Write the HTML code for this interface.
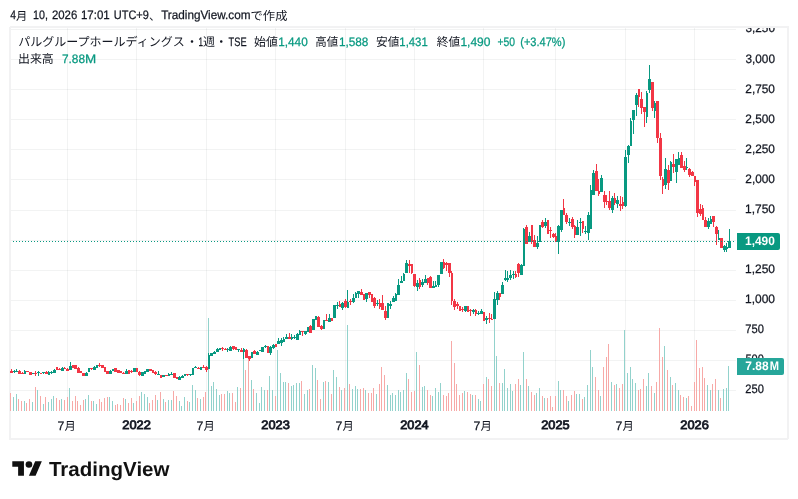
<!DOCTYPE html>
<html lang="ja"><head><meta charset="utf-8"><title>TradingView chart</title>
<style>html,body{margin:0;padding:0;background:#fff;}body{width:798px;height:499px;overflow:hidden;font-family:"Liberation Sans",sans-serif;}svg{display:block;will-change:transform;}</style>
</head><body>
<svg width="798" height="499" viewBox="0 0 798 499" font-family="'Liberation Sans', sans-serif" shape-rendering="crispEdges">
<desc>4月 10, 2026 17:01 UTC+9、TradingView.comで作成 パルグループホールディングス・1週・TSE 始値1,440 高値1,588 安値1,431 終値1,490 +50 (+3.47%) 出来高 7.88M</desc>
<rect width="798" height="499" fill="#fff"/>
<rect x="10" y="27" width="778" height="412" rx="1" fill="none" stroke="#f2f2f3" stroke-width="2"/>
<path d="M67.5 28 V411 M136.5 28 V411 M206.5 28 V411 M275.5 28 V411 M345.5 28 V411 M414.5 28 V411 M483.5 28 V411 M555.5 28 V411 M625.5 28 V411 M694.5 28 V411" stroke="rgba(42,46,57,0.06)" stroke-width="1" fill="none"/>
<path d="M11 29.5 H736 M11 59.5 H736 M11 89.5 H736 M11 119.5 H736 M11 149.5 H736 M11 179.5 H736 M11 210.5 H736 M11 240.5 H736 M11 270.5 H736 M11 300.5 H736 M11 330.5 H736 M11 360.5 H736 M11 390.5 H736" stroke="rgba(42,46,57,0.06)" stroke-width="1" fill="none"/>
<path d="M13 397 h1 V411 h-1 zM16 394 h1 V411 h-1 zM24 401 h1 V411 h-1 zM32 402 h1 V411 h-1 zM37 390 h1 V411 h-1 zM43 404 h1 V411 h-1 zM48 402 h1 V411 h-1 zM51 399 h1 V411 h-1 zM53 396 h1 V411 h-1 zM61 399 h1 V411 h-1 zM69 388 h1 V411 h-1 zM85 399 h1 V411 h-1 zM88 395 h1 V411 h-1 zM93 401 h1 V411 h-1 zM96 404 h1 V411 h-1 zM109 397 h1 V411 h-1 zM112 401 h1 V411 h-1 zM125 399 h1 V411 h-1 zM133 403 h1 V411 h-1 zM141 392 h1 V411 h-1 zM144 394 h1 V411 h-1 zM147 397 h1 V411 h-1 zM157 400 h1 V411 h-1 zM163 399 h1 V411 h-1 zM168 400 h1 V411 h-1 zM171 400 h1 V411 h-1 zM179 401 h1 V411 h-1 zM181 406 h1 V411 h-1 zM184 397 h1 V411 h-1 zM189 402 h1 V411 h-1 zM192 385 h1 V411 h-1 zM195 390 h1 V411 h-1 zM200 399 h1 V411 h-1 zM208 318 h1 V411 h-1 zM211 386 h1 V411 h-1 zM213 382 h1 V411 h-1 zM216 389 h1 V411 h-1 zM219 395 h1 V411 h-1 zM227 391 h1 V411 h-1 zM229 393 h1 V411 h-1 zM237 387 h1 V411 h-1 zM243 350 h1 V411 h-1 zM251 380 h1 V411 h-1 zM256 393 h1 V411 h-1 zM259 403 h1 V411 h-1 zM261 387 h1 V411 h-1 zM264 390 h1 V411 h-1 zM269 376 h1 V411 h-1 zM272 390 h1 V411 h-1 zM277 350 h1 V411 h-1 zM280 373 h1 V411 h-1 zM283 382 h1 V411 h-1 zM285 382 h1 V411 h-1 zM291 386 h1 V411 h-1 zM293 385 h1 V411 h-1 zM296 383 h1 V411 h-1 zM299 383 h1 V411 h-1 zM304 394 h1 V411 h-1 zM307 390 h1 V411 h-1 zM312 365 h1 V411 h-1 zM315 368 h1 V411 h-1 zM323 382 h1 V411 h-1 zM328 382 h1 V411 h-1 zM333 370 h1 V411 h-1 zM336 377 h1 V411 h-1 zM341 390 h1 V411 h-1 zM347 325 h1 V411 h-1 zM352 389 h1 V411 h-1 zM355 386 h1 V411 h-1 zM357 389 h1 V411 h-1 zM365 390 h1 V411 h-1 zM376 394 h1 V411 h-1 zM387 385 h1 V411 h-1 zM390 395 h1 V411 h-1 zM392 393 h1 V411 h-1 zM395 395 h1 V411 h-1 zM398 390 h1 V411 h-1 zM400 392 h1 V411 h-1 zM403 390 h1 V411 h-1 zM406 373 h1 V411 h-1 zM416 352 h1 V411 h-1 zM422 387 h1 V411 h-1 zM424 386 h1 V411 h-1 zM432 396 h1 V411 h-1 zM435 388 h1 V411 h-1 zM438 392 h1 V411 h-1 zM440 383 h1 V411 h-1 zM464 391 h1 V411 h-1 zM472 395 h1 V411 h-1 zM478 399 h1 V411 h-1 zM480 401 h1 V411 h-1 zM486 377 h1 V411 h-1 zM494 319 h1 V411 h-1 zM496 356 h1 V411 h-1 zM502 383 h1 V411 h-1 zM504 369 h1 V411 h-1 zM507 388 h1 V411 h-1 zM510 384 h1 V411 h-1 zM512 391 h1 V411 h-1 zM520 385 h1 V411 h-1 zM523 352 h1 V411 h-1 zM528 386 h1 V411 h-1 zM536 393 h1 V411 h-1 zM539 388 h1 V411 h-1 zM544 398 h1 V411 h-1 zM558 381 h1 V411 h-1 zM560 390 h1 V411 h-1 zM568 401 h1 V411 h-1 zM576 394 h1 V411 h-1 zM579 394 h1 V411 h-1 zM584 397 h1 V411 h-1 zM587 385 h1 V411 h-1 zM590 350 h1 V411 h-1 zM592 367 h1 V411 h-1 zM600 396 h1 V411 h-1 zM611 382 h1 V411 h-1 zM616 384 h1 V411 h-1 zM624 330 h1 V411 h-1 zM627 373 h1 V411 h-1 zM630 367 h1 V411 h-1 zM632 379 h1 V411 h-1 zM635 383 h1 V411 h-1 zM646 386 h1 V411 h-1 zM648 373 h1 V411 h-1 zM654 393 h1 V411 h-1 zM664 346 h1 V411 h-1 zM670 377 h1 V411 h-1 zM675 383 h1 V411 h-1 zM678 390 h1 V411 h-1 zM686 398 h1 V411 h-1 zM707 385 h1 V411 h-1 zM710 390 h1 V411 h-1 zM718 390 h1 V411 h-1 zM723 389 h1 V411 h-1 zM726 388 h1 V411 h-1 zM728 366 h1 V411 h-1 z" fill="#92d2cc"/>
<path d="M10 393 h1 V411 h-1 zM18 399 h1 V411 h-1 zM21 401 h1 V411 h-1 zM26 403 h1 V411 h-1 zM29 399 h1 V411 h-1 zM35 387 h1 V411 h-1 zM40 396 h1 V411 h-1 zM45 397 h1 V411 h-1 zM56 398 h1 V411 h-1 zM59 400 h1 V411 h-1 zM64 400 h1 V411 h-1 zM67 397 h1 V411 h-1 zM72 401 h1 V411 h-1 zM75 396 h1 V411 h-1 zM77 401 h1 V411 h-1 zM80 405 h1 V411 h-1 zM83 400 h1 V411 h-1 zM91 401 h1 V411 h-1 zM99 399 h1 V411 h-1 zM101 402 h1 V411 h-1 zM104 398 h1 V411 h-1 zM107 397 h1 V411 h-1 zM115 405 h1 V411 h-1 zM117 404 h1 V411 h-1 zM120 405 h1 V411 h-1 zM123 398 h1 V411 h-1 zM128 403 h1 V411 h-1 zM131 398 h1 V411 h-1 zM136 401 h1 V411 h-1 zM139 396 h1 V411 h-1 zM149 403 h1 V411 h-1 zM152 400 h1 V411 h-1 zM155 395 h1 V411 h-1 zM160 392 h1 V411 h-1 zM165 402 h1 V411 h-1 zM173 391 h1 V411 h-1 zM176 396 h1 V411 h-1 zM187 401 h1 V411 h-1 zM197 398 h1 V411 h-1 zM203 397 h1 V411 h-1 zM205 392 h1 V411 h-1 zM221 394 h1 V411 h-1 zM224 394 h1 V411 h-1 zM232 393 h1 V411 h-1 zM235 402 h1 V411 h-1 zM240 388 h1 V411 h-1 zM245 370 h1 V411 h-1 zM248 359 h1 V411 h-1 zM253 389 h1 V411 h-1 zM267 390 h1 V411 h-1 zM275 396 h1 V411 h-1 zM288 383 h1 V411 h-1 zM301 381 h1 V411 h-1 zM309 389 h1 V411 h-1 zM317 380 h1 V411 h-1 zM320 399 h1 V411 h-1 zM325 381 h1 V411 h-1 zM331 394 h1 V411 h-1 zM339 387 h1 V411 h-1 zM344 388 h1 V411 h-1 zM349 384 h1 V411 h-1 zM360 389 h1 V411 h-1 zM363 388 h1 V411 h-1 zM368 393 h1 V411 h-1 zM371 393 h1 V411 h-1 zM373 388 h1 V411 h-1 zM379 384 h1 V411 h-1 zM381 367 h1 V411 h-1 zM384 375 h1 V411 h-1 zM408 379 h1 V411 h-1 zM411 392 h1 V411 h-1 zM414 391 h1 V411 h-1 zM419 365 h1 V411 h-1 zM427 390 h1 V411 h-1 zM430 395 h1 V411 h-1 zM443 395 h1 V411 h-1 zM446 396 h1 V411 h-1 zM448 393 h1 V411 h-1 zM451 341 h1 V411 h-1 zM454 363 h1 V411 h-1 zM456 384 h1 V411 h-1 zM459 395 h1 V411 h-1 zM462 393 h1 V411 h-1 zM467 392 h1 V411 h-1 zM470 394 h1 V411 h-1 zM475 395 h1 V411 h-1 zM483 384 h1 V411 h-1 zM488 379 h1 V411 h-1 zM491 386 h1 V411 h-1 zM499 383 h1 V411 h-1 zM515 384 h1 V411 h-1 zM518 379 h1 V411 h-1 zM526 379 h1 V411 h-1 zM531 392 h1 V411 h-1 zM534 395 h1 V411 h-1 zM542 396 h1 V411 h-1 zM547 398 h1 V411 h-1 zM550 396 h1 V411 h-1 zM552 407 h1 V411 h-1 zM555 396 h1 V411 h-1 zM563 390 h1 V411 h-1 zM566 396 h1 V411 h-1 zM571 395 h1 V411 h-1 zM574 391 h1 V411 h-1 zM582 399 h1 V411 h-1 zM595 377 h1 V411 h-1 zM598 390 h1 V411 h-1 zM603 367 h1 V411 h-1 zM606 357 h1 V411 h-1 zM608 344 h1 V411 h-1 zM614 385 h1 V411 h-1 zM619 388 h1 V411 h-1 zM622 384 h1 V411 h-1 zM638 390 h1 V411 h-1 zM640 389 h1 V411 h-1 zM643 379 h1 V411 h-1 zM651 386 h1 V411 h-1 zM656 382 h1 V411 h-1 zM659 328 h1 V411 h-1 zM662 357 h1 V411 h-1 zM667 370 h1 V411 h-1 zM672 385 h1 V411 h-1 zM680 395 h1 V411 h-1 zM683 397 h1 V411 h-1 zM688 396 h1 V411 h-1 zM691 406 h1 V411 h-1 zM694 382 h1 V411 h-1 zM696 340 h1 V411 h-1 zM699 368 h1 V411 h-1 zM702 367 h1 V411 h-1 zM704 378 h1 V411 h-1 zM712 384 h1 V411 h-1 zM715 379 h1 V411 h-1 zM720 398 h1 V411 h-1 z" fill="#f7a9a7"/>
<path d="M14 370h1V373h-1zM13 371h3V372h-3zM16 369h1V372h-1zM16 371h2V372h-2zM24 370h1V374h-1zM24 371h2V374h-2zM32 373h1V374h-1zM32 373h2V374h-2zM38 371h1V376h-1zM37 372h3V373h-3zM43 372h1V374h-1zM42 372h3V373h-3zM48 371h1V375h-1zM48 372h2V375h-2zM51 371h1V374h-1zM50 372h3V373h-3zM54 369h1V373h-1zM53 370h3V373h-3zM62 367h1V371h-1zM61 368h3V371h-3zM70 362h1V370h-1zM69 366h3V370h-3zM86 372h1V376h-1zM85 373h3V376h-3zM88 368h1V372h-1zM88 368h2V372h-2zM94 366h1V370h-1zM93 367h3V370h-3zM96 365h1V368h-1zM96 365h2V368h-2zM110 370h1V374h-1zM109 371h3V374h-3zM112 369h1V371h-1zM112 369h2V371h-2zM126 369h1V374h-1zM125 371h3V374h-3zM134 368h1V372h-1zM133 368h3V372h-3zM142 372h1V376h-1zM141 372h3V376h-3zM144 371h1V374h-1zM144 371h2V374h-2zM147 369h1V372h-1zM146 369h3V372h-3zM158 371h1V375h-1zM157 374h3V375h-3zM163 375h1V377h-1zM162 375h3V377h-3zM168 373h1V376h-1zM168 374h2V376h-2zM171 372h1V375h-1zM170 374h3V375h-3zM179 376h1V380h-1zM178 377h3V380h-3zM182 375h1V378h-1zM181 376h3V378h-3zM184 374h1V376h-1zM184 374h2V376h-2zM190 374h1V376h-1zM189 374h3V375h-3zM192 368h1V375h-1zM192 368h2V375h-2zM195 366h1V368h-1zM194 367h3V368h-3zM200 367h1V370h-1zM200 367h2V370h-2zM208 353h1V369h-1zM208 355h2V369h-2zM211 353h1V356h-1zM210 353h3V356h-3zM214 351h1V354h-1zM213 352h3V354h-3zM217 348h1V352h-1zM216 349h3V352h-3zM219 348h1V350h-1zM219 348h2V350h-2zM227 348h1V352h-1zM227 349h2V350h-2zM230 346h1V351h-1zM229 347h3V351h-3zM238 349h1V352h-1zM237 349h3V350h-3zM243 348h1V359h-1zM243 349h2V352h-2zM251 352h1V358h-1zM251 352h2V358h-2zM257 351h1V355h-1zM256 352h3V355h-3zM259 350h1V351h-1zM259 350h2V351h-2zM262 347h1V352h-1zM261 347h3V352h-3zM265 345h1V348h-1zM264 346h3V347h-3zM270 346h1V355h-1zM269 347h3V353h-3zM273 344h1V349h-1zM272 345h3V348h-3zM278 338h1V344h-1zM277 341h3V344h-3zM281 338h1V346h-1zM280 340h3V343h-3zM283 337h1V342h-1zM283 339h2V342h-2zM286 334h1V339h-1zM285 337h3V339h-3zM291 334h1V340h-1zM291 337h2V339h-2zM294 335h1V339h-1zM293 337h3V338h-3zM297 333h1V340h-1zM296 334h3V340h-3zM299 330h1V335h-1zM299 331h2V335h-2zM305 331h1V335h-1zM304 331h3V334h-3zM307 327h1V332h-1zM307 327h2V332h-2zM313 319h1V330h-1zM312 319h3V330h-3zM315 316h1V320h-1zM315 316h2V320h-2zM323 320h1V329h-1zM323 320h2V329h-2zM329 314h1V322h-1zM328 318h3V322h-3zM334 305h1V318h-1zM333 305h3V318h-3zM337 302h1V309h-1zM336 305h3V306h-3zM342 302h1V310h-1zM341 303h3V308h-3zM347 290h1V308h-1zM347 302h2V308h-2zM353 294h1V303h-1zM352 298h3V302h-3zM355 292h1V298h-1zM355 293h2V298h-2zM358 291h1V298h-1zM357 291h3V294h-3zM366 293h1V302h-1zM365 293h3V299h-3zM377 300h1V306h-1zM376 303h3V304h-3zM387 303h1V318h-1zM387 303h2V318h-2zM390 301h1V309h-1zM389 304h3V306h-3zM393 296h1V302h-1zM392 298h3V302h-3zM395 293h1V301h-1zM395 294h2V301h-2zM398 279h1V295h-1zM397 285h3V295h-3zM401 276h1V283h-1zM400 281h3V283h-3zM403 273h1V281h-1zM403 274h2V281h-2zM406 260h1V273h-1zM405 263h3V273h-3zM417 280h1V291h-1zM416 283h3V287h-3zM422 279h1V287h-1zM421 282h3V285h-3zM425 275h1V283h-1zM424 279h3V283h-3zM433 281h1V288h-1zM432 286h3V288h-3zM435 281h1V287h-1zM435 285h2V287h-2zM438 275h1V287h-1zM437 275h3V285h-3zM441 262h1V274h-1zM440 262h3V274h-3zM465 306h1V312h-1zM464 306h3V311h-3zM473 309h1V314h-1zM472 310h3V312h-3zM478 311h1V315h-1zM477 313h3V314h-3zM481 309h1V314h-1zM480 311h3V314h-3zM486 316h1V324h-1zM485 318h3V320h-3zM494 292h1V319h-1zM493 299h3V319h-3zM497 291h1V305h-1zM496 293h3V300h-3zM502 282h1V294h-1zM501 285h3V294h-3zM505 270h1V281h-1zM504 278h3V280h-3zM507 271h1V282h-1zM507 278h2V280h-2zM510 270h1V280h-1zM509 275h3V278h-3zM513 271h1V279h-1zM512 274h3V275h-3zM521 264h1V275h-1zM520 265h3V275h-3zM523 228h1V266h-1zM523 229h2V266h-2zM529 232h1V242h-1zM528 236h3V242h-3zM537 236h1V249h-1zM536 243h3V247h-3zM539 225h1V242h-1zM539 225h2V242h-2zM545 218h1V228h-1zM544 222h3V226h-3zM558 225h1V254h-1zM557 226h3V242h-3zM561 210h1V232h-1zM560 210h3V230h-3zM569 218h1V226h-1zM568 222h3V223h-3zM577 220h1V235h-1zM576 227h3V235h-3zM580 218h1V236h-1zM579 222h3V223h-3zM585 226h1V234h-1zM584 231h3V232h-3zM588 212h1V240h-1zM587 215h3V233h-3zM590 185h1V229h-1zM590 190h2V229h-2zM593 170h1V195h-1zM592 173h3V195h-3zM601 175h1V192h-1zM600 178h3V192h-3zM612 196h1V213h-1zM611 198h3V210h-3zM617 196h1V208h-1zM616 200h3V204h-3zM625 150h1V207h-1zM624 157h3V206h-3zM628 145h1V163h-1zM627 146h3V155h-3zM630 118h1V146h-1zM630 121h2V146h-2zM633 110h1V134h-1zM632 110h3V120h-3zM636 93h1V116h-1zM635 95h3V105h-3zM646 91h1V123h-1zM646 93h2V117h-2zM649 65h1V93h-1zM648 79h3V90h-3zM654 101h1V118h-1zM654 103h2V111h-2zM665 158h1V189h-1zM664 169h3V185h-3zM670 161h1V181h-1zM670 162h2V181h-2zM676 159h1V183h-1zM675 159h3V172h-3zM678 152h1V165h-1zM678 158h2V165h-2zM686 158h1V170h-1zM686 167h2V168h-2zM708 218h1V229h-1zM707 221h3V227h-3zM710 216h1V224h-1zM710 219h2V224h-2zM718 230h1V240h-1zM718 238h2V240h-2zM724 245h1V252h-1zM723 246h3V250h-3zM726 243h1V252h-1zM726 247h2V249h-2zM729 229h1V248h-1zM728 241h3V248h-3z" fill="#089981"/>
<path d="M11 369h1V373h-1zM10 371h3V373h-3zM19 370h1V374h-1zM18 371h3V374h-3zM22 372h1V374h-1zM21 373h3V374h-3zM27 371h1V372h-1zM26 371h3V372h-3zM30 372h1V375h-1zM29 372h3V375h-3zM35 371h1V376h-1zM34 373h3V374h-3zM40 373h1V374h-1zM40 373h2V374h-2zM46 371h1V374h-1zM45 372h3V374h-3zM56 367h1V370h-1zM56 367h2V370h-2zM59 368h1V370h-1zM58 369h3V370h-3zM64 367h1V369h-1zM64 368h2V369h-2zM67 368h1V371h-1zM66 369h3V371h-3zM72 365h1V368h-1zM72 365h2V368h-2zM75 365h1V369h-1zM74 365h3V369h-3zM78 367h1V373h-1zM77 368h3V373h-3zM80 371h1V373h-1zM80 371h2V373h-2zM83 373h1V376h-1zM82 373h3V376h-3zM91 368h1V370h-1zM90 368h3V369h-3zM99 363h1V367h-1zM98 365h3V366h-3zM102 365h1V368h-1zM101 365h3V368h-3zM104 367h1V372h-1zM104 367h2V372h-2zM107 371h1V374h-1zM106 371h3V374h-3zM115 368h1V372h-1zM114 368h3V372h-3zM118 370h1V373h-1zM117 370h3V373h-3zM120 371h1V373h-1zM120 371h2V373h-2zM123 372h1V374h-1zM122 373h3V374h-3zM128 370h1V374h-1zM128 370h2V374h-2zM131 370h1V373h-1zM130 371h3V372h-3zM136 368h1V372h-1zM136 368h2V372h-2zM139 371h1V376h-1zM138 372h3V375h-3zM150 369h1V371h-1zM149 369h3V371h-3zM152 370h1V373h-1zM152 370h2V373h-2zM155 371h1V375h-1zM154 372h3V374h-3zM160 375h1V378h-1zM160 375h2V378h-2zM166 375h1V376h-1zM165 375h3V376h-3zM174 373h1V378h-1zM173 373h3V378h-3zM176 377h1V379h-1zM176 377h2V379h-2zM187 374h1V376h-1zM186 374h3V375h-3zM198 367h1V369h-1zM197 368h3V369h-3zM203 365h1V368h-1zM202 367h3V368h-3zM206 366h1V372h-1zM205 367h3V370h-3zM222 347h1V351h-1zM221 348h3V349h-3zM225 348h1V350h-1zM224 349h3V350h-3zM233 346h1V350h-1zM232 346h3V349h-3zM235 347h1V350h-1zM235 347h2V350h-2zM241 348h1V352h-1zM240 350h3V352h-3zM246 349h1V358h-1zM245 350h3V358h-3zM249 356h1V361h-1zM248 356h3V359h-3zM254 350h1V354h-1zM253 351h3V354h-3zM267 346h1V353h-1zM267 346h2V353h-2zM275 344h1V347h-1zM275 344h2V347h-2zM289 333h1V339h-1zM288 337h3V339h-3zM302 331h1V336h-1zM301 331h3V332h-3zM310 325h1V333h-1zM309 326h3V333h-3zM318 316h1V327h-1zM317 317h3V327h-3zM321 325h1V330h-1zM320 326h3V329h-3zM326 314h1V321h-1zM325 320h3V321h-3zM331 318h1V321h-1zM331 318h2V321h-2zM339 301h1V307h-1zM339 304h2V307h-2zM345 299h1V308h-1zM344 301h3V307h-3zM350 299h1V305h-1zM349 301h3V302h-3zM361 289h1V295h-1zM360 292h3V295h-3zM363 294h1V300h-1zM363 294h2V300h-2zM369 292h1V298h-1zM368 292h3V295h-3zM371 294h1V302h-1zM371 294h2V302h-2zM374 297h1V308h-1zM373 298h3V306h-3zM379 299h1V309h-1zM379 303h2V307h-2zM382 295h1V310h-1zM381 303h3V310h-3zM385 306h1V320h-1zM384 311h3V318h-3zM409 260h1V273h-1zM408 264h3V266h-3zM411 264h1V274h-1zM411 264h2V273h-2zM414 274h1V287h-1zM413 274h3V286h-3zM419 278h1V289h-1zM419 280h2V287h-2zM427 278h1V285h-1zM427 278h2V283h-2zM430 276h1V288h-1zM429 277h3V288h-3zM443 259h1V269h-1zM443 262h2V268h-2zM446 262h1V271h-1zM445 263h3V265h-3zM449 263h1V277h-1zM448 263h3V273h-3zM451 271h1V305h-1zM451 273h2V301h-2zM454 299h1V310h-1zM453 301h3V307h-3zM457 302h1V309h-1zM456 304h3V306h-3zM459 306h1V311h-1zM459 306h2V311h-2zM462 307h1V312h-1zM461 309h3V310h-3zM467 306h1V312h-1zM467 306h2V312h-2zM470 309h1V316h-1zM469 310h3V311h-3zM475 309h1V316h-1zM475 310h2V314h-2zM483 312h1V321h-1zM483 312h2V321h-2zM489 313h1V323h-1zM488 318h3V319h-3zM491 314h1V320h-1zM491 319h2V320h-2zM499 293h1V300h-1zM499 293h2V297h-2zM515 271h1V278h-1zM515 274h2V277h-2zM518 263h1V277h-1zM517 264h3V273h-3zM526 225h1V244h-1zM525 227h3V244h-3zM531 225h1V244h-1zM531 225h2V242h-2zM534 235h1V247h-1zM533 240h3V247h-3zM542 220h1V228h-1zM541 222h3V227h-3zM547 220h1V234h-1zM547 220h2V234h-2zM550 227h1V238h-1zM549 230h3V231h-3zM553 233h1V238h-1zM552 234h3V237h-3zM555 233h1V242h-1zM555 236h2V242h-2zM563 199h1V215h-1zM563 208h2V215h-2zM566 213h1V224h-1zM565 215h3V222h-3zM572 217h1V229h-1zM571 219h3V227h-3zM574 225h1V238h-1zM574 226h2V235h-2zM582 221h1V233h-1zM582 221h2V229h-2zM596 164h1V191h-1zM595 171h3V191h-3zM598 179h1V196h-1zM598 191h2V194h-2zM604 191h1V208h-1zM603 195h3V202h-3zM606 195h1V205h-1zM606 201h2V202h-2zM609 191h1V210h-1zM608 201h3V208h-3zM614 193h1V205h-1zM614 198h2V203h-2zM620 196h1V211h-1zM619 204h3V206h-3zM622 197h1V209h-1zM622 202h2V206h-2zM638 89h1V107h-1zM638 89h2V97h-2zM641 92h1V114h-1zM640 99h3V108h-3zM644 107h1V127h-1zM643 107h3V112h-3zM652 82h1V111h-1zM651 82h3V108h-3zM657 101h1V143h-1zM656 101h3V138h-3zM660 133h1V180h-1zM659 138h3V176h-3zM662 177h1V194h-1zM662 179h2V186h-2zM668 165h1V190h-1zM667 170h3V183h-3zM673 154h1V173h-1zM672 164h3V167h-3zM681 152h1V168h-1zM680 155h3V168h-3zM684 161h1V172h-1zM683 166h3V170h-3zM689 168h1V177h-1zM688 169h3V175h-3zM692 171h1V176h-1zM691 172h3V176h-3zM694 176h1V186h-1zM694 176h2V182h-2zM697 180h1V217h-1zM696 180h3V213h-3zM700 204h1V216h-1zM699 209h3V214h-3zM702 205h1V220h-1zM702 208h2V220h-2zM705 217h1V227h-1zM704 220h3V227h-3zM713 216h1V227h-1zM712 216h3V222h-3zM716 226h1V245h-1zM715 227h3V234h-3zM721 238h1V248h-1zM720 238h3V248h-3z" fill="#f23645"/>
<path d="M13 241.5 H736" stroke="#089981" stroke-width="1" stroke-dasharray="1 2" fill="none"/>
<g shape-rendering="auto" text-rendering="geometricPrecision">
<clipPath id="ax"><rect x="737" y="28" width="51" height="410"/></clipPath>
<g clip-path="url(#ax)">
<text x="745.45" y="32.48" font-size="12.3" fill="#131722" stroke="#131722" stroke-width="0.25" textLength="29.51" lengthAdjust="spacingAndGlyphs">3,250</text>
<text x="745.45" y="62.56" font-size="12.3" fill="#131722" stroke="#131722" stroke-width="0.25" textLength="29.51" lengthAdjust="spacingAndGlyphs">3,000</text>
<text x="745.30" y="92.64" font-size="12.3" fill="#131722" stroke="#131722" stroke-width="0.25" textLength="29.66" lengthAdjust="spacingAndGlyphs">2,750</text>
<text x="745.30" y="122.71" font-size="12.3" fill="#131722" stroke="#131722" stroke-width="0.25" textLength="29.66" lengthAdjust="spacingAndGlyphs">2,500</text>
<text x="745.30" y="152.78" font-size="12.3" fill="#131722" stroke="#131722" stroke-width="0.25" textLength="29.66" lengthAdjust="spacingAndGlyphs">2,250</text>
<text x="745.30" y="182.86" font-size="12.3" fill="#131722" stroke="#131722" stroke-width="0.25" textLength="29.66" lengthAdjust="spacingAndGlyphs">2,000</text>
<text x="744.99" y="212.94" font-size="12.3" fill="#131722" stroke="#131722" stroke-width="0.25" textLength="29.98" lengthAdjust="spacingAndGlyphs">1,750</text>
<text x="744.99" y="273.08" font-size="12.3" fill="#131722" stroke="#131722" stroke-width="0.25" textLength="29.98" lengthAdjust="spacingAndGlyphs">1,250</text>
<text x="744.99" y="303.16" font-size="12.3" fill="#131722" stroke="#131722" stroke-width="0.25" textLength="29.98" lengthAdjust="spacingAndGlyphs">1,000</text>
<text x="745.33" y="333.24" font-size="12.3" fill="#131722" stroke="#131722" stroke-width="0.25" textLength="18.61" lengthAdjust="spacingAndGlyphs">750</text>
<text x="745.46" y="363.31" font-size="12.3" fill="#131722" stroke="#131722" stroke-width="0.25" textLength="18.48" lengthAdjust="spacingAndGlyphs">500</text>
<text x="745.34" y="393.38" font-size="12.3" fill="#131722" stroke="#131722" stroke-width="0.25" textLength="18.60" lengthAdjust="spacingAndGlyphs">250</text>
</g>
<path d="M737 233 H778 a2 2 0 0 1 2 2 V248 a2 2 0 0 1 -2 2 H737 z" fill="#089981"/>
<text x="745.05" y="244.50" font-size="12.3" fill="#fff" font-weight="700" textLength="29.84" lengthAdjust="spacingAndGlyphs">1,490</text>
<path d="M737 358 H782 a2 2 0 0 1 2 2 V373 a2 2 0 0 1 -2 2 H737 z" fill="#26a69a"/>
<text x="745.29" y="370.30" font-size="12.3" fill="#fff" font-weight="700" textLength="23.28" lengthAdjust="spacingAndGlyphs">7.88</text>
<text x="769.65" y="370.30" font-size="12.3" fill="#fff" font-weight="700" textLength="9.29" lengthAdjust="spacingAndGlyphs">M</text>
<text x="57.57" y="429.50" font-size="12.3" fill="#131722" stroke="#131722" stroke-width="0.25" textLength="6.85" lengthAdjust="spacingAndGlyphs">7</text>
<text x="64.4" y="429.50" font-size="11.3" font-family="'Liberation Sans', 'Noto Sans CJK JP', sans-serif" fill="#131722">月</text>
<text x="122.25" y="429.40" font-size="12.3" fill="#131722" stroke="#131722" stroke-width="0.8" textLength="28.59" lengthAdjust="spacingAndGlyphs">2022</text>
<text x="196.57" y="429.50" font-size="12.3" fill="#131722" stroke="#131722" stroke-width="0.25" textLength="6.85" lengthAdjust="spacingAndGlyphs">7</text>
<text x="203.4" y="429.50" font-size="11.3" font-family="'Liberation Sans', 'Noto Sans CJK JP', sans-serif" fill="#131722">月</text>
<text x="261.26" y="429.40" font-size="12.3" fill="#131722" stroke="#131722" stroke-width="0.8" textLength="28.51" lengthAdjust="spacingAndGlyphs">2023</text>
<text x="335.57" y="429.50" font-size="12.3" fill="#131722" stroke="#131722" stroke-width="0.25" textLength="6.85" lengthAdjust="spacingAndGlyphs">7</text>
<text x="342.4" y="429.50" font-size="11.3" font-family="'Liberation Sans', 'Noto Sans CJK JP', sans-serif" fill="#131722">月</text>
<text x="400.26" y="429.40" font-size="12.3" fill="#131722" stroke="#131722" stroke-width="0.8" textLength="28.31" lengthAdjust="spacingAndGlyphs">2024</text>
<text x="473.57" y="429.50" font-size="12.3" fill="#131722" stroke="#131722" stroke-width="0.25" textLength="6.85" lengthAdjust="spacingAndGlyphs">7</text>
<text x="480.4" y="429.50" font-size="11.3" font-family="'Liberation Sans', 'Noto Sans CJK JP', sans-serif" fill="#131722">月</text>
<text x="541.26" y="429.40" font-size="12.3" fill="#131722" stroke="#131722" stroke-width="0.8" textLength="28.48" lengthAdjust="spacingAndGlyphs">2025</text>
<text x="615.57" y="429.50" font-size="12.3" fill="#131722" stroke="#131722" stroke-width="0.25" textLength="6.85" lengthAdjust="spacingAndGlyphs">7</text>
<text x="622.4" y="429.50" font-size="11.3" font-family="'Liberation Sans', 'Noto Sans CJK JP', sans-serif" fill="#131722">月</text>
<text x="680.26" y="429.40" font-size="12.3" fill="#131722" stroke="#131722" stroke-width="0.8" textLength="28.51" lengthAdjust="spacingAndGlyphs">2026</text>
<text x="10.16" y="19.40" font-size="12.3" fill="#131722" stroke="#131722" stroke-width="0.25" textLength="5.74" lengthAdjust="spacingAndGlyphs">4</text>
<text x="15.9" y="19.50" font-size="11.3" font-family="'Liberation Sans', 'Noto Sans CJK JP', sans-serif" fill="#131722">月</text>
<text x="33.08" y="19.40" font-size="12.3" fill="#131722" stroke="#131722" stroke-width="0.25" textLength="14.88" lengthAdjust="spacingAndGlyphs">10,</text>
<text x="51.93" y="19.40" font-size="12.3" fill="#131722" stroke="#131722" stroke-width="0.25" textLength="25.37" lengthAdjust="spacingAndGlyphs">2026</text>
<text x="80.92" y="19.40" font-size="12.3" fill="#131722" stroke="#131722" stroke-width="0.25" textLength="28.84" lengthAdjust="spacingAndGlyphs">17:01</text>
<text x="113.75" y="19.40" font-size="12.3" fill="#131722" stroke="#131722" stroke-width="0.25" textLength="35.07" lengthAdjust="spacingAndGlyphs">UTC+9</text>
<text x="149" y="19.50" font-size="11.3" font-family="'Liberation Sans', 'Noto Sans CJK JP', sans-serif" fill="#131722">、</text>
<text x="161.14" y="19.40" font-size="12.3" fill="#131722" stroke="#131722" stroke-width="0.25" textLength="89.42" lengthAdjust="spacingAndGlyphs">TradingView.com</text>
<text x="250.5" y="19.50" font-size="12" font-family="'Liberation Sans', 'Noto Sans CJK JP', sans-serif" fill="#131722" textLength="37" lengthAdjust="spacingAndGlyphs">で作成</text>
<text x="18.3" y="46.00" font-size="12" font-family="'Liberation Sans', 'Noto Sans CJK JP', sans-serif" fill="#131722" textLength="166.5" lengthAdjust="spacingAndGlyphs">パルグループホールディングス</text>
<text x="192" y="46.00" font-size="12" font-family="'Liberation Sans', 'Noto Sans CJK JP', sans-serif" fill="#131722" text-anchor="middle">・</text>
<text x="198.38" y="46.00" font-size="12.3" fill="#131722" stroke="#131722" stroke-width="0.25" textLength="4.51" lengthAdjust="spacingAndGlyphs">1</text>
<text x="203" y="46.00" font-size="12" font-family="'Liberation Sans', 'Noto Sans CJK JP', sans-serif" fill="#131722">週</text>
<text x="221.3" y="46.00" font-size="12" font-family="'Liberation Sans', 'Noto Sans CJK JP', sans-serif" fill="#131722" text-anchor="middle">・</text>
<text x="228.59" y="46.00" font-size="12.3" fill="#131722" stroke="#131722" stroke-width="0.25" textLength="18.01" lengthAdjust="spacingAndGlyphs">TSE</text>
<text x="254" y="46.00" font-size="12" font-family="'Liberation Sans', 'Noto Sans CJK JP', sans-serif" fill="#131722" textLength="23.8" lengthAdjust="spacingAndGlyphs">始値</text>
<text x="278.20" y="46.00" font-size="12.3" fill="#089981" stroke="#089981" stroke-width="0.25" textLength="29.56" lengthAdjust="spacingAndGlyphs">1,440</text>
<text x="315.3" y="46.00" font-size="12" font-family="'Liberation Sans', 'Noto Sans CJK JP', sans-serif" fill="#131722" textLength="23" lengthAdjust="spacingAndGlyphs">高値</text>
<text x="338.90" y="46.00" font-size="12.3" fill="#089981" stroke="#089981" stroke-width="0.25" textLength="29.51" lengthAdjust="spacingAndGlyphs">1,588</text>
<text x="376" y="46.00" font-size="12" font-family="'Liberation Sans', 'Noto Sans CJK JP', sans-serif" fill="#131722" textLength="23.4" lengthAdjust="spacingAndGlyphs">安値</text>
<text x="399.33" y="46.00" font-size="12.3" fill="#089981" stroke="#089981" stroke-width="0.25" textLength="28.42" lengthAdjust="spacingAndGlyphs">1,431</text>
<text x="436.7" y="46.00" font-size="12" font-family="'Liberation Sans', 'Noto Sans CJK JP', sans-serif" fill="#131722" textLength="23.4" lengthAdjust="spacingAndGlyphs">終値</text>
<text x="460.38" y="46.00" font-size="12.3" fill="#089981" stroke="#089981" stroke-width="0.25" textLength="30.09" lengthAdjust="spacingAndGlyphs">1,490</text>
<text x="497.50" y="46.00" font-size="12.3" fill="#089981" stroke="#089981" stroke-width="0.25" textLength="17.51" lengthAdjust="spacingAndGlyphs">+50</text>
<text x="520.21" y="46.00" font-size="12.3" fill="#089981" stroke="#089981" stroke-width="0.25" textLength="45.17" lengthAdjust="spacingAndGlyphs">(+3.47%)</text>
<text x="18" y="62.70" font-size="12" font-family="'Liberation Sans', 'Noto Sans CJK JP', sans-serif" fill="#131722" textLength="35.8" lengthAdjust="spacingAndGlyphs">出来高</text>
<text x="61.89" y="62.70" font-size="12.3" fill="#089981" stroke="#089981" stroke-width="0.25" textLength="23.13" lengthAdjust="spacingAndGlyphs">7.88</text>
<text x="85.10" y="62.70" font-size="12.3" fill="#089981" stroke="#089981" stroke-width="0.25" textLength="11.21" lengthAdjust="spacingAndGlyphs">M</text>
<g transform="translate(12.3 458) scale(0.832 0.806)" fill="#111"><path d="M14 22H7V11H0V4h14v18zM28 22h-8l7.5-18h8L28 22z"/><circle cx="20" cy="8" r="4"/></g>
<text x="48.97" y="475.70" font-size="20.2" fill="#111" font-weight="700" textLength="120.49" lengthAdjust="spacingAndGlyphs">TradingView</text>
</g>
</svg>
</body></html>
